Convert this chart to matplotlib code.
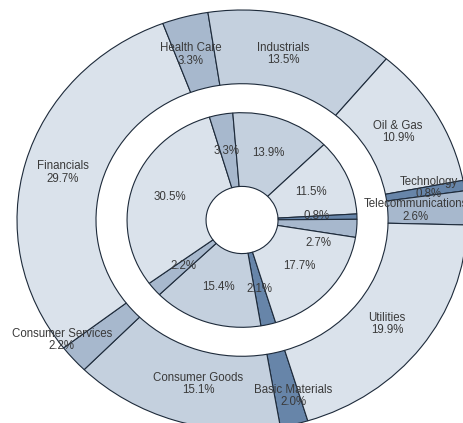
import numpy as np
import matplotlib.pyplot as plt

sectors = ["Basic Materials", "Consumer Goods", "Consumer Services", "Financials",
           "Health Care", "Industrials", "Oil & Gas", "Technology",
           "Telecommunications", "Utilities"]
outer_pct = [2.0, 15.1, 2.2, 29.7, 3.3, 13.5, 10.9, 0.8, 2.6, 19.9]
inner_pct = [2.1, 15.4, 2.2, 30.5, 3.3, 13.9, 11.5, 0.8, 2.7, 17.7]

light, mid, blue, dark = "#dae2eb", "#c4d0de", "#a7b8cd", "#6785a9"
colors = [dark, mid, blue, light, blue, mid, light, dark, blue, light]

# small nudges so labels sit where the reference puts them (radius / degrees)
outer_r = [0.868, 0.805, 0.983, 0.827, 0.82, 0.811, 0.81, 0.844, 0.774, 0.812]
outer_da = [1.8, 3.3, -6, 0, 1.6, 2.6, 0.7, 0.9, 0, -0.3]
inner_r = [0.337, 0.336, 0.34, 0.338, 0.335, 0.338, 0.334, 0.334, 0.355, 0.335]
inner_da = [0, 0, 0, 0, 1.0, 0.4, -0.4, 1.5, -13.5, 0.3]

start = -73
edge = "#1d2a3a"

fig = plt.figure(figsize=(4.63, 4.23), dpi=100)
ax = fig.add_axes([0, 0, 1, 1])

ax.pie(outer_pct, radius=1.0, startangle=start, counterclock=False, colors=colors,
       wedgeprops=dict(width=0.351, edgecolor=edge, linewidth=0.8))
ax.pie(inner_pct, radius=0.511, startangle=start, counterclock=False, colors=colors,
       wedgeprops=dict(width=0.351, edgecolor=edge, linewidth=0.8))


def mid_angles(vals):
    v = np.array(vals)
    cum = np.cumsum(v) - v / 2
    return start - 360 * cum / v.sum()


font = dict(family=["Liberation Sans", "DejaVu Sans"], fontsize=8.3, color="#3a3a3a",
            ha="center", va="center", linespacing=1.05)

for name, p, a, r, da in zip(sectors, outer_pct, mid_angles(outer_pct), outer_r, outer_da):
    t = np.radians(a + da)
    ax.text(r * np.cos(t), r * np.sin(t), f"{name}\n{p:.1f}%", **font)

for p, a, r, da in zip(inner_pct, mid_angles(inner_pct), inner_r, inner_da):
    t = np.radians(a + da)
    ax.text(r * np.cos(t), r * np.sin(t), f"{p:.1f}%", **font)

ax.set_aspect("auto")
ax.set_xlim(-1.0756, 0.982)
ax.set_ylim(-0.9667, 1.0476)
ax.axis("off")

fig.savefig("out.png", dpi=100)
